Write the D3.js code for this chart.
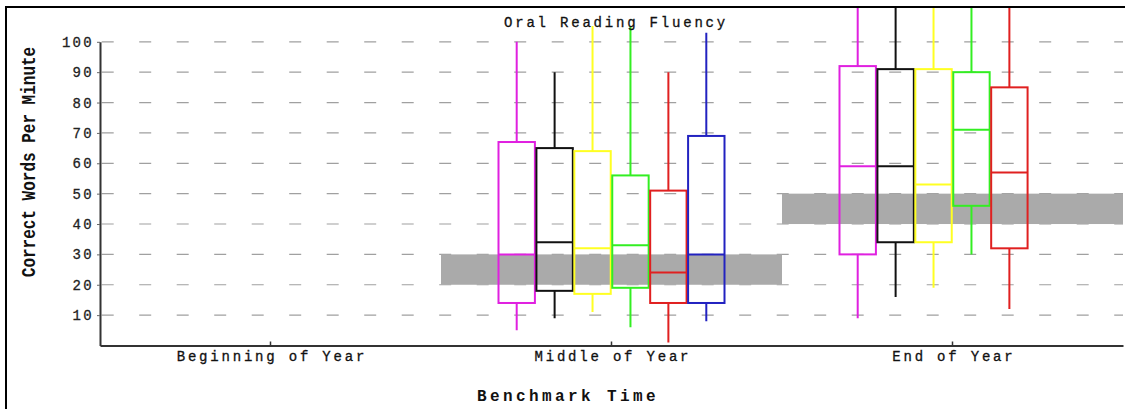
<!DOCTYPE html>
<meta charset="utf-8">
<style>
  body { margin: 0; background: #fff; }
  text { font-family: "Liberation Mono", "DejaVu Sans Mono", monospace; }
</style>
<svg width="1125" height="409"></svg>

<script src="https://d3js.org/d3.v7.min.js"></script>
<script>
// benchmark periods on the x axis
var periods = ["Beginning of Year", "Middle of Year", "End of Year"]
var yTicks = [10, 20, 30, 40, 50, 60, 70, 80, 90, 100]

// one box per group and period: [min, q1, median, q3, max], null = no data
var groups = ["g1", "g2", "g3", "g4", "g5", "g6"]
var groupColors = ["#e020e0", "#111111", "#ffff22", "#33ee22", "#e02020", "#2222c0"]
var g1 = [null, [5, 14, 30, 67, 100], [9, 30, 59, 92, 120]]
var g2 = [null, [9, 18, 34, 65, 90], [16, 34, 59, 91, 120]]
var g3 = [null, [11, 17, 32, 64, 108], [19, 34, 53, 91, 120]]
var g4 = [null, [6, 19, 33, 56, 110], [30, 46, 71, 90, 120]]
var g5 = [null, [1, 14, 24, 51, 90], [12, 32, 57, 85, 120]]
var g6 = [null, [8, 14, 30, 69, 103], null]
var boxData = [g1, g2, g3, g4, g5, g6]

// benchmark target ranges per period
var targetLow = [null, 20, 40]
var targetHigh = [null, 30, 50]

var svg = d3.select('svg')
var plotLeft = 100, plotRight = 1123, plotTop = 8

var x = d3.scaleBand().domain(periods).range([plotLeft, plotRight])
var y = d3.scaleLinear().domain([0, 100]).range([345.5, 41.8])
// slots for the groups inside a period
var slot = d3.scaleBand().domain(groups).range([-113, 113]).paddingInner(0.04)

svg.append('clipPath').attr('id', 'plot')
  .append('rect').attr('x', plotLeft).attr('y', plotTop)
  .attr('width', plotRight - plotLeft).attr('height', y(0) - plotTop)

// dashed grid
svg.append('g').selectAll('line')
  .data(yTicks).enter().append('line')
  .attr('x1', plotLeft + 1.7).attr('x2', plotRight)
  .attr('y1', function (d) { return y(d) }).attr('y2', function (d) { return y(d) })
  .attr('stroke', '#a0a0a0').attr('stroke-width', 1.2)
  .attr('stroke-dasharray', '12 25.5')

// benchmark bands
svg.append('g').selectAll('rect')
  .data(periods.filter(function (p, i) { return targetLow[i] !== null }))
  .enter().append('rect')
  .attr('x', function (p) { return x(p) })
  .attr('width', x.bandwidth())
  .attr('y', function (p) { return y(targetHigh[periods.indexOf(p)]) })
  .attr('height', function (p) {
    var i = periods.indexOf(p)
    return y(targetLow[i]) - y(targetHigh[i])
  })
  .attr('fill', '#aaaaaa')

// boxes and whiskers
var boxes = svg.append('g').attr('clip-path', 'url(#plot)')
groups.forEach(function (g, gi) {
  boxData[gi].forEach(function (b, pi) {
    if (!b) return
    var bx = x(periods[pi]) + x.bandwidth() / 2 + slot(g)
    var w = slot.bandwidth()
    var mid = bx + w / 2
    var grp = boxes.append('g').attr('stroke', groupColors[gi]).attr('stroke-width', 2).attr('fill', 'none')
    grp.append('line').attr('x1', mid).attr('x2', mid).attr('y1', y(b[3])).attr('y2', y(b[4]))
    grp.append('line').attr('x1', mid).attr('x2', mid).attr('y1', y(b[1])).attr('y2', y(b[0]))
    grp.append('rect').attr('x', bx).attr('width', w)
      .attr('y', y(b[3])).attr('height', y(b[1]) - y(b[3]))
    grp.append('line').attr('x1', bx).attr('x2', bx + w).attr('y1', y(b[2])).attr('y2', y(b[2]))
  })
})

// axes
var yAxis = svg.append('g').attr('transform', 'translate(' + plotLeft + ',0)')
  .call(d3.axisLeft(y).tickValues(yTicks).tickSize(3).tickSizeOuter(0))
yAxis.select('.domain').attr('stroke', '#333').attr('stroke-width', 2)
yAxis.selectAll('.tick line').attr('stroke', '#666')
yAxis.selectAll('.tick text')
  .attr('font-family', '"Liberation Mono", monospace').attr('font-size', 14)
  .attr('letter-spacing', 2.3).attr('fill', '#222').attr('x', -6)
  .attr('stroke', '#222').attr('stroke-width', 0.3)

var xAxis = svg.append('g').attr('transform', 'translate(0,' + y(0) + ')')
  .call(d3.axisBottom(x).tickSize(-4).tickSizeOuter(0).tickPadding(5))
xAxis.select('.domain').attr('stroke', '#333').attr('stroke-width', 2)
xAxis.selectAll('.tick line').attr('stroke', '#333').attr('stroke-width', 1.5)
xAxis.selectAll('.tick text')
  .attr('font-family', '"Liberation Mono", monospace').attr('font-size', 14)
  .attr('letter-spacing', 2.8).attr('fill', '#111').attr('y', 6).attr('dx', 1.4)
  .attr('stroke', '#111').attr('stroke-width', 0.3)

// title with white background
svg.append('rect').attr('x', 498).attr('y', plotTop).attr('width', 236).attr('height', 18).attr('fill', '#fff')
svg.append('text').attr('x', 616).attr('y', 27).attr('text-anchor', 'middle')
  .attr('font-size', 14).attr('letter-spacing', 2.8).attr('fill', '#111')
  .attr('stroke', '#111').attr('stroke-width', 0.3)
  .text('Oral Reading Fluency')

// tall narrow axis title
svg.append('text')
  .attr('transform', 'translate(35,162) rotate(-90) scale(1,1.25)')
  .attr('text-anchor', 'middle').attr('font-size', 16).attr('font-weight', 'bold')
  .attr('fill', '#111')
  .text('Correct Words Per Minute')

svg.append('text').attr('x', 568).attr('y', 401).attr('text-anchor', 'middle')
  .attr('font-size', 16).attr('font-weight', 'bold').attr('letter-spacing', 3.4)
  .attr('fill', '#111')
  .text('Benchmark Time')

// frame
svg.append('path').attr('d', 'M6,409V7H1125')
  .attr('fill', 'none').attr('stroke', '#000').attr('stroke-width', 2)
</script>
